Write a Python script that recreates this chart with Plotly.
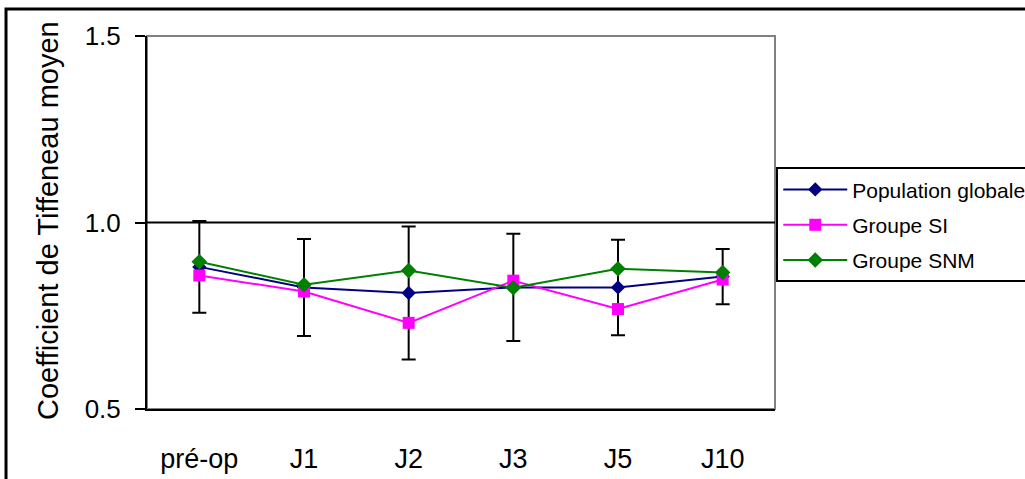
import plotly.graph_objects as go

categories = ["pré-op", "J1", "J2", "J3", "J5", "J10"]
pop_globale = [0.881, 0.826, 0.811, 0.826, 0.826, 0.855]
pop_err = [0.123, 0.130, 0.178, 0.144, 0.128, 0.074]
groupe_si = [0.858, 0.815, 0.731, 0.844, 0.768, 0.847]
groupe_snm = [0.895, 0.833, 0.871, 0.825, 0.876, 0.866]
y_ticks = [0.5, 1.0, 1.5]
y_tick_text = ["0.5", "1.0", "1.5"]

FONT = "Liberation Sans, Arial, sans-serif"

fig = go.Figure()
fig.add_trace(go.Scatter(
    x=categories, y=pop_globale, name="Population globale", mode="lines+markers",
    line=dict(color="#000080", width=2),
    marker=dict(symbol="diamond", size=11, color="#000080"),
    error_y=dict(type="data", array=pop_err, visible=True, color="black", thickness=2, width=7),
    legendgroup="a",
))
fig.add_trace(go.Scatter(
    x=categories, y=groupe_si, name="Groupe SI", mode="lines+markers",
    line=dict(color="#FF00FF", width=2),
    marker=dict(symbol="square", size=12, color="#FF00FF"),
    legendgroup="b",
))
fig.add_trace(go.Scatter(
    x=categories, y=groupe_snm, name="Groupe SNM", mode="lines+markers",
    line=dict(color="#008000", width=2),
    marker=dict(symbol="diamond", size=12, color="#008000"),
    legendgroup="c",
))

fig.update_layout(
    width=1025, height=479,
    margin=dict(l=147, r=250, t=36, b=70, autoexpand=False),
    paper_bgcolor="white", plot_bgcolor="white",
    font=dict(family=FONT, color="black"),
    showlegend=True,
    legend=dict(
        x=1.002, y=0.648, xanchor="left", yanchor="top",
        bgcolor="white", bordercolor="black", borderwidth=2,
        font=dict(family=FONT, size=21, color="black"),
        tracegroupgap=5, itemwidth=64,
    ),
    xaxis=dict(
        type="category", range=[-0.5, 5.5], showgrid=False, zeroline=False,
        showline=True, linecolor="black", linewidth=2, ticks="",
        tickfont=dict(family=FONT, size=27, color="black"),
        ticklabelstandoff=25,
    ),
    yaxis=dict(
        range=[0.5, 1.5], tickvals=y_ticks, ticktext=y_tick_text,
        showgrid=False, zeroline=False, showline=True, linecolor="black", linewidth=2,
        ticks="outside", ticklen=10, tickwidth=2, tickcolor="black",
        tickfont=dict(family=FONT, size=26, color="black"),
        ticklabelstandoff=9,
    ),
    shapes=[
        dict(type="rect", xref="paper", yref="paper", x0=0, x1=1, y0=0, y1=1,
             line=dict(color="#808080", width=2), layer="below"),
        dict(type="line", xref="paper", yref="y", x0=0, x1=1, y0=1.0, y1=1.0,
             line=dict(color="black", width=2), layer="below"),
        dict(type="rect", xref="paper", yref="paper", x0=-0.2245, x1=2, y0=-1, y1=1.0724,
             line=dict(color="black", width=3), layer="below"),
    ],
    annotations=[
        dict(text="Coefficient de Tiffeneau moyen", xref="paper", yref="paper",
             x=-0.1576, y=0.504, xanchor="center", yanchor="middle", textangle=-90,
             showarrow=False, font=dict(family=FONT, size=29, color="black")),
    ],
)

fig.write_html("out.html", config={"displayModeBar": False},
               post_script="document.body.style.margin='0px';")
